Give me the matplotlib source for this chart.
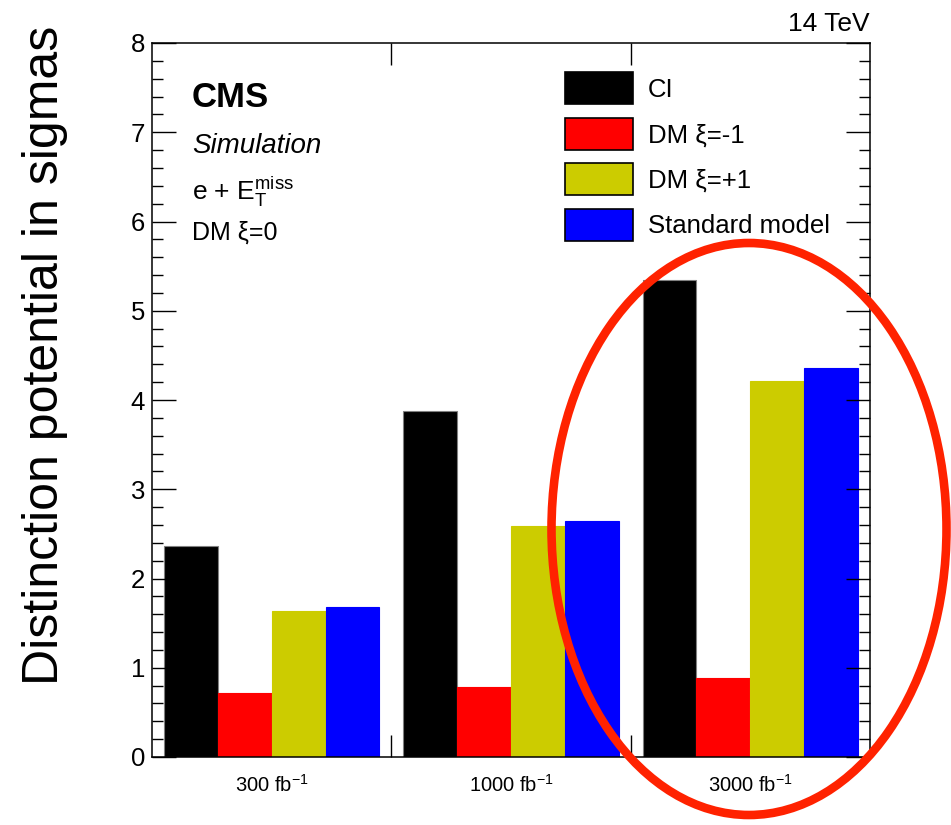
import numpy as np
import matplotlib
matplotlib.use('Agg')
import matplotlib.pyplot as plt
from matplotlib.patches import Ellipse, Patch
from matplotlib.ticker import MultipleLocator, FixedLocator, NullFormatter

plt.rcParams['font.family'] = ['Liberation Sans', 'DejaVu Sans']
plt.rcParams['mathtext.fontset'] = 'custom'
plt.rcParams['mathtext.rm'] = 'Liberation Sans'
plt.rcParams['mathtext.it'] = 'Liberation Sans:italic'

# luminosity points and significance per model
luminosities = ['300', '1000', '3000']
models = ['CI', 'DM ξ=-1', 'DM ξ=+1', 'Standard model']
colors = ['#000000', '#ff0000', '#cccc00', '#0000ff']
ci = [2.36, 3.88, 5.34]
dm_minus = [0.72, 0.78, 0.88]
dm_plus = [1.64, 2.59, 4.21]
sm = [1.68, 2.64, 4.36]
series = [ci, dm_minus, dm_plus, sm]

W, H = 951, 825
fig = plt.figure(figsize=(W / 100, H / 100), dpi=100)
ax = fig.add_axes([152 / W, 1 - 757 / H, 718 / W, 714 / H])

# ROOT-style bars: offset 0.05, width 0.225 of each bin
bw = 0.225
groups = np.arange(len(luminosities))
for k, vals in enumerate(series):
    x = groups + 0.05 + bw * (k + 0.5)
    ec = '#808080' if k == 0 else colors[k]
    ax.bar(x, vals, width=bw, color=colors[k], edgecolor=ec, linewidth=0.8)

ax.set_xlim(0, 3)
ax.set_ylim(0, 8)

for s in ax.spines.values():
    s.set_linewidth(1.1)

# y axis: majors every 1, minors every 0.2, on both sides
ax.yaxis.set_major_locator(MultipleLocator(1))
ax.yaxis.set_minor_locator(MultipleLocator(0.2))
ax.tick_params(axis='y', which='both', direction='in', left=True, right=True, width=1)
ax.tick_params(axis='y', which='major', length=17, labelsize=18.5, pad=5)
ax.tick_params(axis='y', which='minor', length=8)

# x axis: ticks on bin edges, labels at bin centres
ax.xaxis.set_major_locator(FixedLocator([1, 2]))
ax.xaxis.set_major_formatter(NullFormatter())
ax.xaxis.set_minor_locator(FixedLocator(groups + 0.5))
ax.set_xticklabels([r'%s fb$^{\mathregular{-1}}$' % l for l in luminosities], minor=True)
ax.tick_params(axis='x', which='major', direction='in', top=True, bottom=True, length=16, width=1)
ax.tick_params(axis='x', which='minor', length=0, labelsize=14.5, pad=12)

fig.text(45 / W, 1 - 355 / H, 'Distinction potential in sigmas', rotation=90,
         ha='center', va='center', fontsize=36)

fig.text(870 / W, 1 - 31 / H, '14 TeV', ha='right', va='baseline', fontsize=19)
fig.text(192 / W, 1 - 107 / H, 'CMS', ha='left', va='baseline', fontsize=25, fontweight='bold')
fig.text(192 / W, 1 - 153 / H, 'Simulation', ha='left', va='baseline', fontsize=20, style='italic')
fig.text(192 / W, 1 - 200 / H, r'e + $\mathregular{E_{T}^{miss}}$', ha='left', va='baseline', fontsize=19)
fig.text(192 / W, 1 - 240 / H, 'DM ξ=0', ha='left', va='baseline', fontsize=18)

handles = [Patch(facecolor=c, edgecolor='black', linewidth=1.2) for c in colors]
fs = 18.5
ax.legend(handles, models, loc='upper left', bbox_to_anchor=(565 / W, 1 - 72 / H),
          bbox_transform=fig.transFigure, frameon=False, fontsize=fs,
          borderpad=0, borderaxespad=0, handlelength=2.65, handleheight=1.55,
          labelspacing=0.52, handletextpad=0.58)

# highlight ring around the 3000 fb-1 group
ring = Ellipse((749 / W, 1 - 529 / H), 395 / W, 572 / H, transform=fig.transFigure,
               fill=False, edgecolor='#ff2200', linewidth=6.2)
fig.add_artist(ring)

fig.savefig('out.png', dpi=100)
